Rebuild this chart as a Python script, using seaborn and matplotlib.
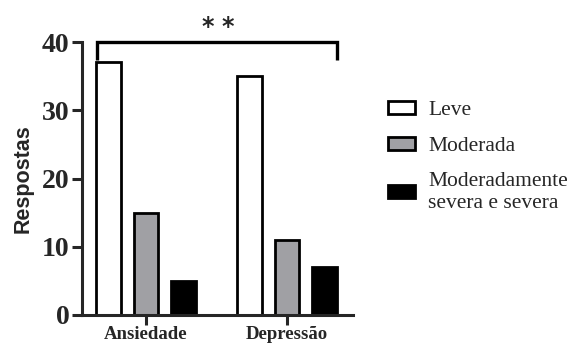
import matplotlib
matplotlib.use("Agg")
import matplotlib.pyplot as plt
import seaborn as sns
import pandas as pd
from matplotlib.patches import Patch

categories = ["Ansiedade", "Depressão"]
levels = ["Leve", "Moderada", "Moderadamente\nsevera e severa"]
leve = [37, 35]
moderada = [15, 11]
severa = [5, 7]
yticks = [0, 10, 20, 30, 40]

df = pd.DataFrame({
    "cat": categories * 3,
    "nivel": [levels[0]] * 2 + [levels[1]] * 2 + [levels[2]] * 2,
    "val": leve + moderada + severa,
})

sns.set_style("ticks")
colors = ["#ffffff", "#a0a0a4", "#000000"]

fig = plt.figure(figsize=(5.8, 3.52), dpi=100)
ax = fig.add_axes([82/580, 1-315/352, 271/580, 273/352])

sns.barplot(data=df, x="cat", y="val", hue="nivel", hue_order=levels,
            palette=colors, edgecolor="black", linewidth=2, gap=0.35,
            width=0.8, ax=ax, legend=False, saturation=1)

ax.set_ylim(0, 40)
ax.set_xlim(-0.454, 1.468)
ax.set_yticks(yticks)
sns.despine(ax=ax)
for s in ["left", "bottom"]:
    ax.spines[s].set_linewidth(2.2)
ax.tick_params(axis="y", width=2.2, length=7, pad=2)
ax.tick_params(axis="x", width=2.2, length=7, pad=1)
for lab in ax.get_yticklabels():
    lab.set_fontfamily("Liberation Serif")
    lab.set_fontweight("bold")
    lab.set_fontsize(20)
for lab in ax.get_xticklabels():
    lab.set_fontfamily("Liberation Serif")
    lab.set_fontweight("bold")
    lab.set_fontsize(13.5)
ax.set_xlabel("")
ax.set_ylabel("Respostas", fontfamily="Liberation Sans", fontweight="bold",
              fontsize=15.5, labelpad=6)

# significance bracket
xl, xr = -0.35, 1.355
ax.plot([xl, xl, xr, xr], [37.4, 40, 40, 37.4], color="black", lw=2.4,
        clip_on=False, solid_joinstyle="miter", solid_capstyle="butt")
for sx in (0.44, 0.58):
    ax.text(sx, 42.2, "*", ha="center", va="center", fontsize=17,
            fontweight="bold", fontfamily="DejaVu Sans")

handles = [Patch(facecolor=c, edgecolor="black", linewidth=2) for c in colors]
leg = fig.legend(handles, levels, loc="upper left", bbox_to_anchor=(369/580, 1-82/352),
                 frameon=False, prop={"family": "Liberation Serif", "size": 15.5},
                 handlelength=1.25, handleheight=0.55, handletextpad=0.6,
                 labelspacing=0.75)

fig.savefig("out.png", dpi=100)
